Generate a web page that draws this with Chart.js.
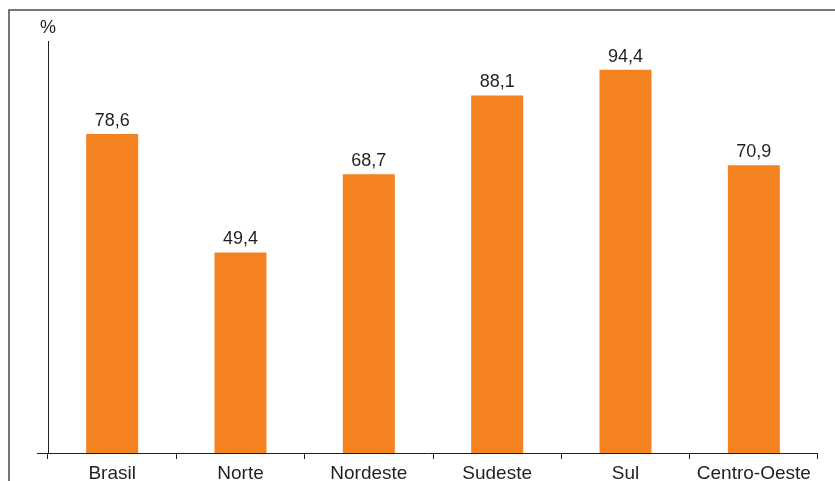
<!DOCTYPE html>
<html>
<head>
<meta charset="utf-8">
<script src="https://cdn.jsdelivr.net/npm/chart.js@4"></script>
<style>
  html, body { margin: 0; padding: 0; background: #fff; }
  #wrap { width: 835px; height: 481px; }
</style>
</head>
<body>
<div id="wrap"><canvas id="bar-regioes" width="835" height="481"></canvas></div>
<script>
const labels = ["Brasil", "Norte", "Nordeste", "Sudeste", "Sul", "Centro-Oeste"];
const amount = [78.6, 49.4, 68.7, 88.1, 94.4, 70.9];

const ink = "#231f20";
const font = "'Liberation Sans', Arial, sans-serif";

// frame, axis lines, unit and the value above each bar
const decor = {
    id: "decor",
    afterDraw(chart) {
        const ctx = chart.ctx;
        const area = chart.chartArea;
        ctx.save();

        ctx.strokeStyle = "#4a4a4a";
        ctx.lineWidth = 1.5;
        ctx.beginPath();
        ctx.moveTo(9, 481);
        ctx.lineTo(9, 10);
        ctx.lineTo(835, 10);
        ctx.stroke();

        ctx.strokeStyle = ink;
        ctx.lineWidth = 1;
        ctx.beginPath();
        ctx.moveTo(area.left + 0.5, area.top);
        ctx.lineTo(area.left + 0.5, area.bottom);
        ctx.moveTo(area.left - 11, area.bottom + 0.5);
        ctx.lineTo(area.right, area.bottom + 0.5);
        ctx.stroke();

        ctx.fillStyle = ink;
        ctx.font = "18px " + font;
        ctx.textAlign = "center";
        ctx.textBaseline = "middle";
        ctx.fillText("%", area.left, 28);

        const meta = chart.getDatasetMeta(0);
        ctx.textBaseline = "alphabetic";
        meta.data.forEach(function (bar, i) {
            ctx.fillText(amount[i].toFixed(1).replace(".", ","), bar.x, bar.y - 8);
        });
        ctx.restore();
    },
};

const data = {
    labels: labels,
    datasets: [
        {
            data: amount,
            backgroundColor: "#f48220",
            categoryPercentage: 1,
            barPercentage: 0.405,
        },
    ],
};

const config = {
    type: "bar",
    data: data,
    plugins: [decor],
    options: {
        responsive: false,
        animation: false,
        layout: { padding: { left: 48, right: 17, top: 41, bottom: 0 } },
        scales: {
            x: {
                border: { display: false },
                grid: {
                    offset: true,
                    drawOnChartArea: false,
                    tickLength: 6,
                    color: ink,
                },
                ticks: {
                    color: ink,
                    padding: 3,
                    font: { family: font, size: 19 },
                },
                afterFit: function (scale) {
                    scale.height = 28;
                },
            },
            y: {
                min: 0,
                max: 101.5,
                display: true,
                border: { display: false },
                grid: { display: false },
                ticks: { display: false },
                afterFit: function (scale) {
                    scale.width = 0;
                },
            },
        },
        plugins: {
            legend: { display: false },
            tooltip: { enabled: false },
        },
    },
};

const barChart = new Chart(document.getElementById("bar-regioes"), config);
</script>
</body>
</html>
